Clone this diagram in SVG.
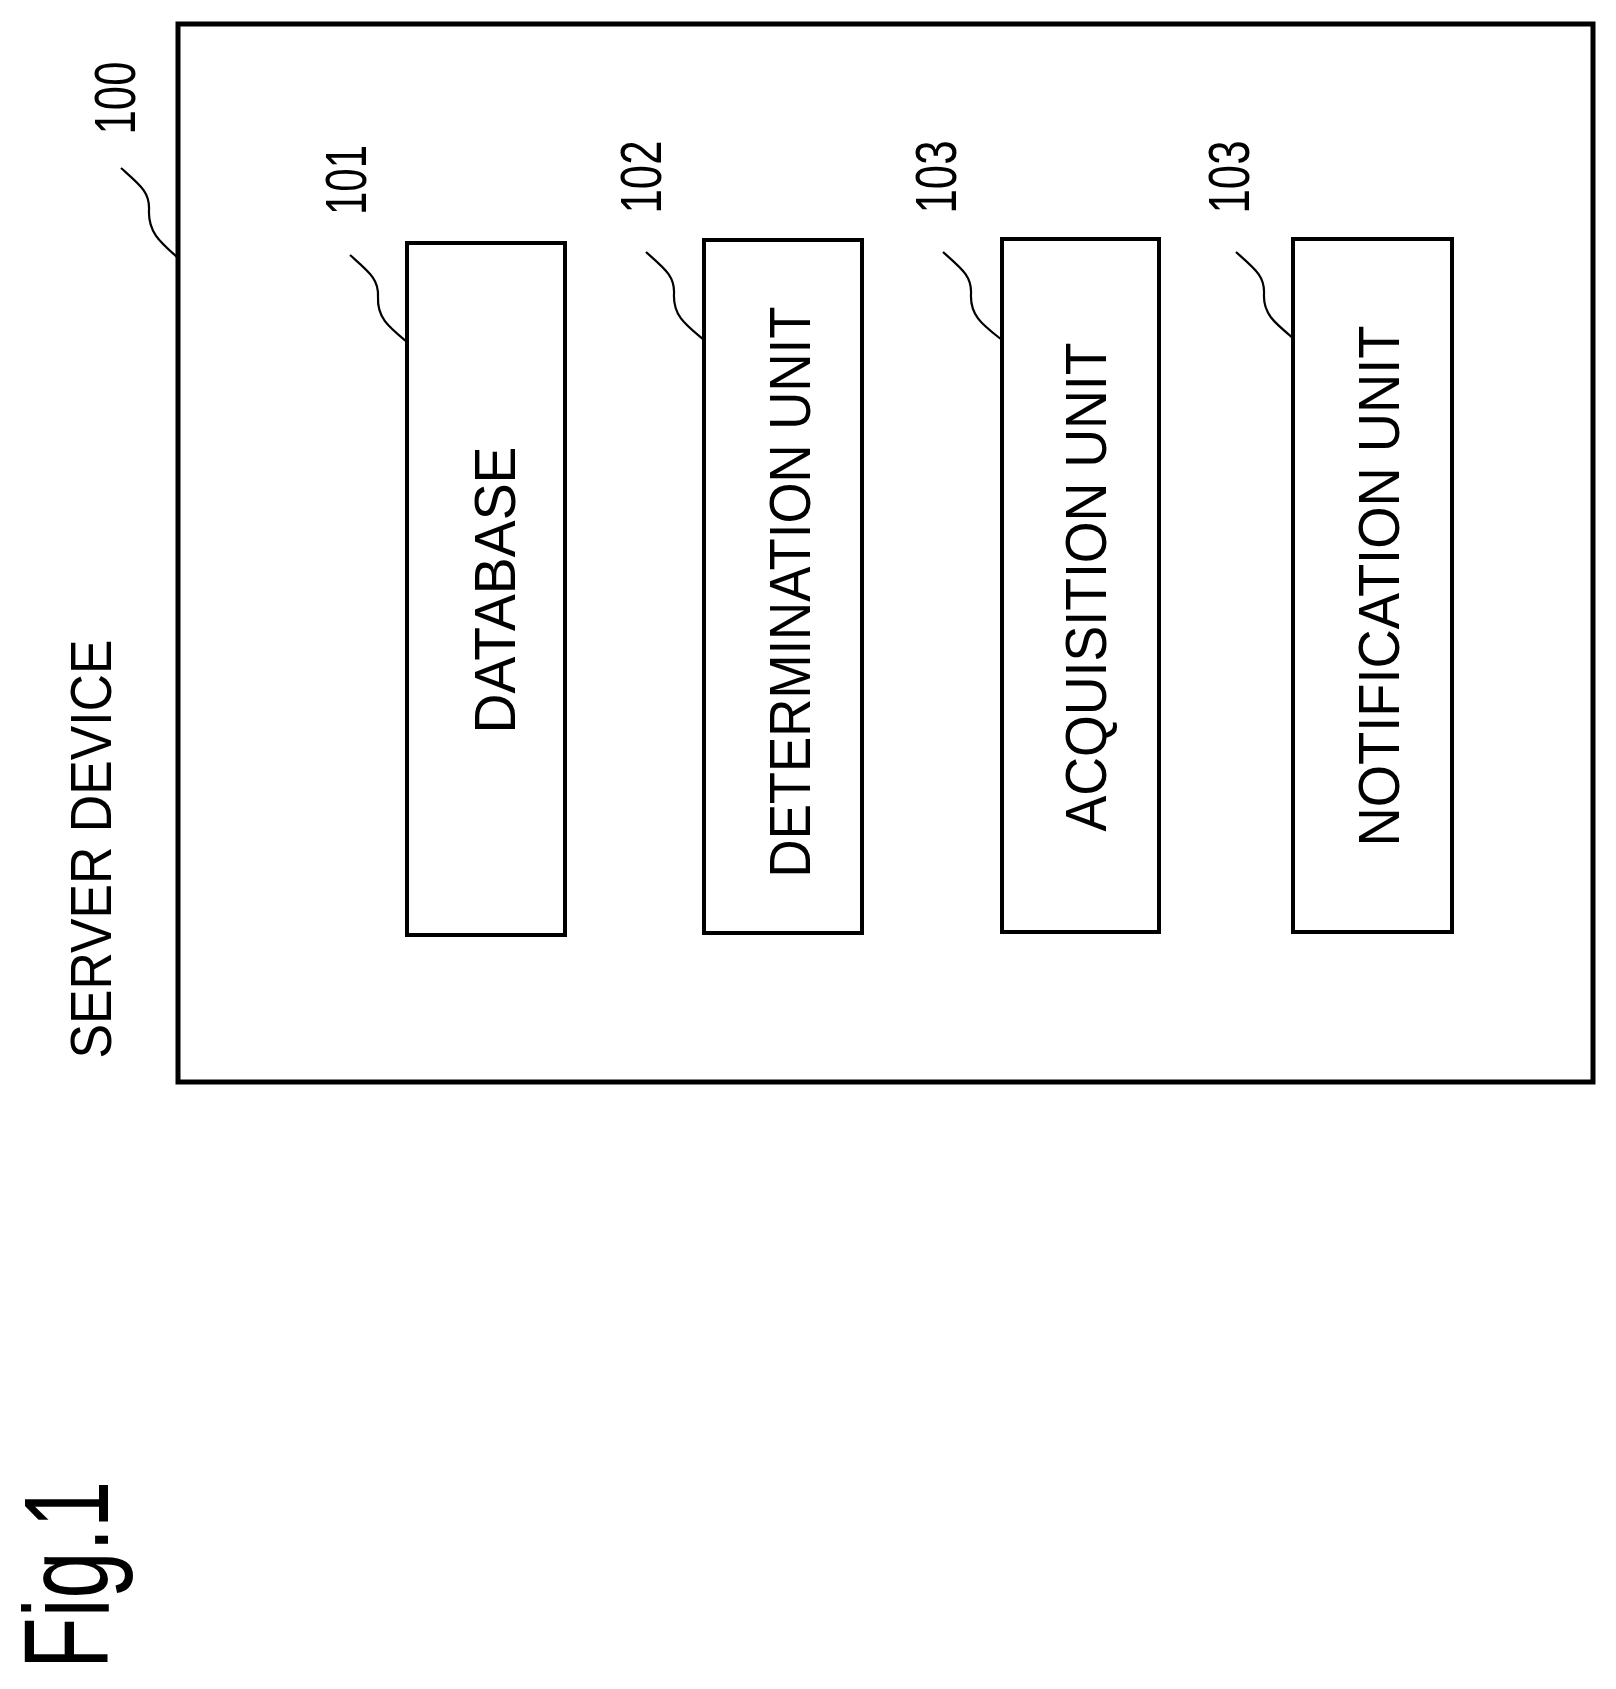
<svg xmlns="http://www.w3.org/2000/svg" width="1616" height="1689" viewBox="0 0 1616 1689">
<style>
.b{fill:#fff;stroke:#000;stroke-width:4}
.t{font-family:"Liberation Sans",Arial,sans-serif;font-size:58px;fill:#000;text-anchor:middle}
.l{fill:none;stroke:#000;stroke-width:2.2}
</style>
<rect width="1616" height="1689" fill="#fff"/>
<g id="server">
<rect x="178" y="24" width="1415" height="1058" fill="#fff" stroke="#000" stroke-width="5"/>
<text class="t" transform="translate(111,849) rotate(-90)" textLength="419" lengthAdjust="spacingAndGlyphs">SERVER DEVICE</text>
<text class="t" transform="translate(135,98) rotate(-90)" textLength="73" lengthAdjust="spacingAndGlyphs">100</text>
</g>
<g id="database">
<rect class="b" x="407" y="243" width="158" height="692"/>
<text class="t" transform="translate(515,590) rotate(-90)" textLength="287" lengthAdjust="spacingAndGlyphs">DATABASE</text>
<text class="t" transform="translate(366,180) rotate(-90)" textLength="70" lengthAdjust="spacingAndGlyphs">101</text>
</g>
<g id="determination">
<rect class="b" x="704" y="240" width="158" height="693"/>
<text class="t" transform="translate(810,592) rotate(-90)" textLength="571" lengthAdjust="spacingAndGlyphs">DETERMINATION UNIT</text>
<text class="t" transform="translate(661,177) rotate(-90)" textLength="73" lengthAdjust="spacingAndGlyphs">102</text>
</g>
<g id="acquisition">
<rect class="b" x="1002" y="239" width="157" height="693"/>
<text class="t" transform="translate(1106,587) rotate(-90)" textLength="489" lengthAdjust="spacingAndGlyphs">ACQUISITION UNIT</text>
<text class="t" transform="translate(956,177) rotate(-90)" textLength="73" lengthAdjust="spacingAndGlyphs">103</text>
</g>
<g id="notification">
<rect class="b" x="1293" y="239" width="159" height="693"/>
<text class="t" transform="translate(1399,586) rotate(-90)" textLength="521" lengthAdjust="spacingAndGlyphs">NOTIFICATION UNIT</text>
<text class="t" transform="translate(1249,177) rotate(-90)" textLength="73" lengthAdjust="spacingAndGlyphs">103</text>
</g>
<g id="connectors">
<path class="l" d="M121,168 C140,185 150,192 149,210 C148,232 160,242 177,257"/>
<path class="l" d="M350,255 C369,272 379,279 378,297 C377,318 389,327 407,342"/>
<path class="l" d="M646,252 C665,269 675,276 674,294 C673,316 686,325 704,340"/>
<path class="l" d="M943,252 C962,269 972,276 971,294 C970,316 983,325 1002,340"/>
<path class="l" d="M1236,252 C1255,269 1265,276 1264,294 C1263,314 1275,323 1293,338"/>
</g>
<text class="t" style="font-size:120px" transform="translate(108,1575) rotate(-90)" textLength="188" lengthAdjust="spacingAndGlyphs">Fig.1</text>
</svg>
